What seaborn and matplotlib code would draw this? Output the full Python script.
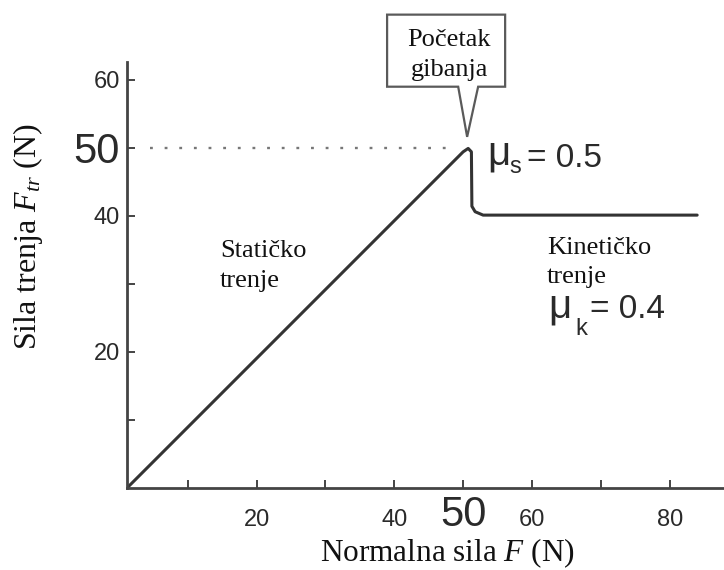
import matplotlib
matplotlib.use("Agg")
import matplotlib.pyplot as plt
import seaborn as sns
from matplotlib.patches import Polygon

# ============================================
# DATA
# ============================================

# normal force F (N) and friction force F_tr (N) along the curve
normal_force = [1.16, 50.0, 50.73, 51.2, 51.27, 51.74, 52.9, 84.0]
friction_force = [0.0, 49.4, 49.9, 49.4, 41.4, 40.6, 40.1, 40.1]

static_limit = 50
dotted_x = [4.5, 48.0]

x_ticks = [10, 20, 30, 40, 50, 60, 70, 80]
x_tick_labels = ["", "20", "", "40", "50", "60", "", "80"]
y_ticks = [10, 20, 30, 40, 50, 60]
y_tick_labels = ["", "20", "", "40", "50", "60"]

# ============================================
# STYLE
# ============================================

sns.set_style("ticks")
plt.rcParams["font.family"] = ["Liberation Serif", "DejaVu Serif"]
plt.rcParams["mathtext.fontset"] = "custom"
plt.rcParams["mathtext.rm"] = "Liberation Serif"
plt.rcParams["mathtext.it"] = "Liberation Serif:italic"

line_col = "#333333"
axis_col = "#444444"
box_col = "#5a5a5a"
sans = ["Liberation Sans", "DejaVu Sans"]

fig = plt.figure(figsize=(7.24, 5.70), dpi=100)
ax = fig.add_axes([127 / 724, 1 - 488 / 570, 597 / 724, 426 / 570])

# ============================================
# CURVE
# ============================================

sns.lineplot(
    x=normal_force,
    y=friction_force,
    ax=ax,
    color=line_col,
    linewidth=2.2,
    sort=False,
    estimator=None
)

sns.lineplot(
    x=dotted_x,
    y=[static_limit, static_limit],
    ax=ax,
    color="#777777",
    linewidth=1.7,
    linestyle=(0, (1.2, 5.0)),
    estimator=None
)

ax.set_xlim(1.16, 87.9)
ax.set_ylim(0, 62.6)

# ============================================
# AXES
# ============================================

sns.despine(ax=ax)
for side in ["left", "bottom"]:
    ax.spines[side].set_color(axis_col)
    ax.spines[side].set_linewidth(2.0)

ax.set_xticks(x_ticks)
ax.set_xticklabels(x_tick_labels)
ax.set_yticks(y_ticks)
ax.set_yticklabels(y_tick_labels)

ax.tick_params(axis="both", direction="in", length=6, width=1.4,
               color=axis_col, labelcolor="#2a2a2a")
ax.tick_params(axis="x", pad=27.4)
ax.tick_params(axis="y", pad=5)

for lab in ax.get_xticklabels():
    lab.set_family(sans)
    lab.set_verticalalignment("baseline")
    lab.set_fontsize(30 if lab.get_text() == "50" else 17)
for lab in ax.get_yticklabels():
    lab.set_family(sans)
    lab.set_fontsize(30 if lab.get_text() == "50" else 17)

ax.set_xlabel("Normalna sila $F$ (N)", fontsize=22.5, color="#111111")
ax.xaxis.label.set_verticalalignment("baseline")
ax.xaxis.set_label_coords(0.536, -0.172)

ax.set_ylabel("Sila trenja $F_{tr}$ (N)", fontsize=23, color="#111111")
ax.yaxis.label.set_verticalalignment("center")
ax.yaxis.set_label_coords(-0.166, 0.59)

# ============================================
# ANNOTATIONS
# ============================================

# multiline texts: y is the baseline of the last line
ax.text(14.7, 29.6, "Statičko\ntrenje", fontsize=19, color="#111111",
        va="baseline", linespacing=1.42)
ax.text(62.2, 30.1, "Kinetičko\ntrenje", fontsize=19, color="#111111",
        va="baseline", linespacing=1.42)

# mu_s
ax.text(53.5, 47.5, "μ", fontsize=29, family=sans, color="#2a2a2a", va="baseline")
ax.text(56.7, 46.3, "s", fontsize=17, family=sans, color="#2a2a2a", va="baseline")
ax.text(59.3, 47.2, "= 0.5", fontsize=24, family=sans, color="#2a2a2a", va="baseline")

# mu_k
ax.text(62.35, 25.1, "μ", fontsize=29, family=sans, color="#2a2a2a", va="baseline")
ax.text(66.3, 22.5, "k", fontsize=17, family=sans, color="#2a2a2a", va="baseline")
ax.text(68.5, 25.0, "= 0.4", fontsize=24, family=sans, color="#2a2a2a", va="baseline")

# callout box pointing at the peak
peak_x = normal_force[2]
box_l, box_r, box_b, box_t = 38.95, 56.1, 58.97, 69.56
callout = Polygon(
    [(box_l, box_t), (box_r, box_t), (box_r, box_b), (peak_x + 1.45, box_b),
     (peak_x - 0.15, 51.6), (peak_x - 1.45, box_b), (box_l, box_b)],
    closed=True, facecolor="white", edgecolor=box_col, linewidth=1.6,
    clip_on=False, zorder=5
)
ax.add_patch(callout)
ax.text(48.0, 60.6, "Početak\ngibanja", fontsize=19, color="#111111",
        ha="center", va="baseline", linespacing=1.42, zorder=6)

fig.savefig("out.png", dpi=100)
